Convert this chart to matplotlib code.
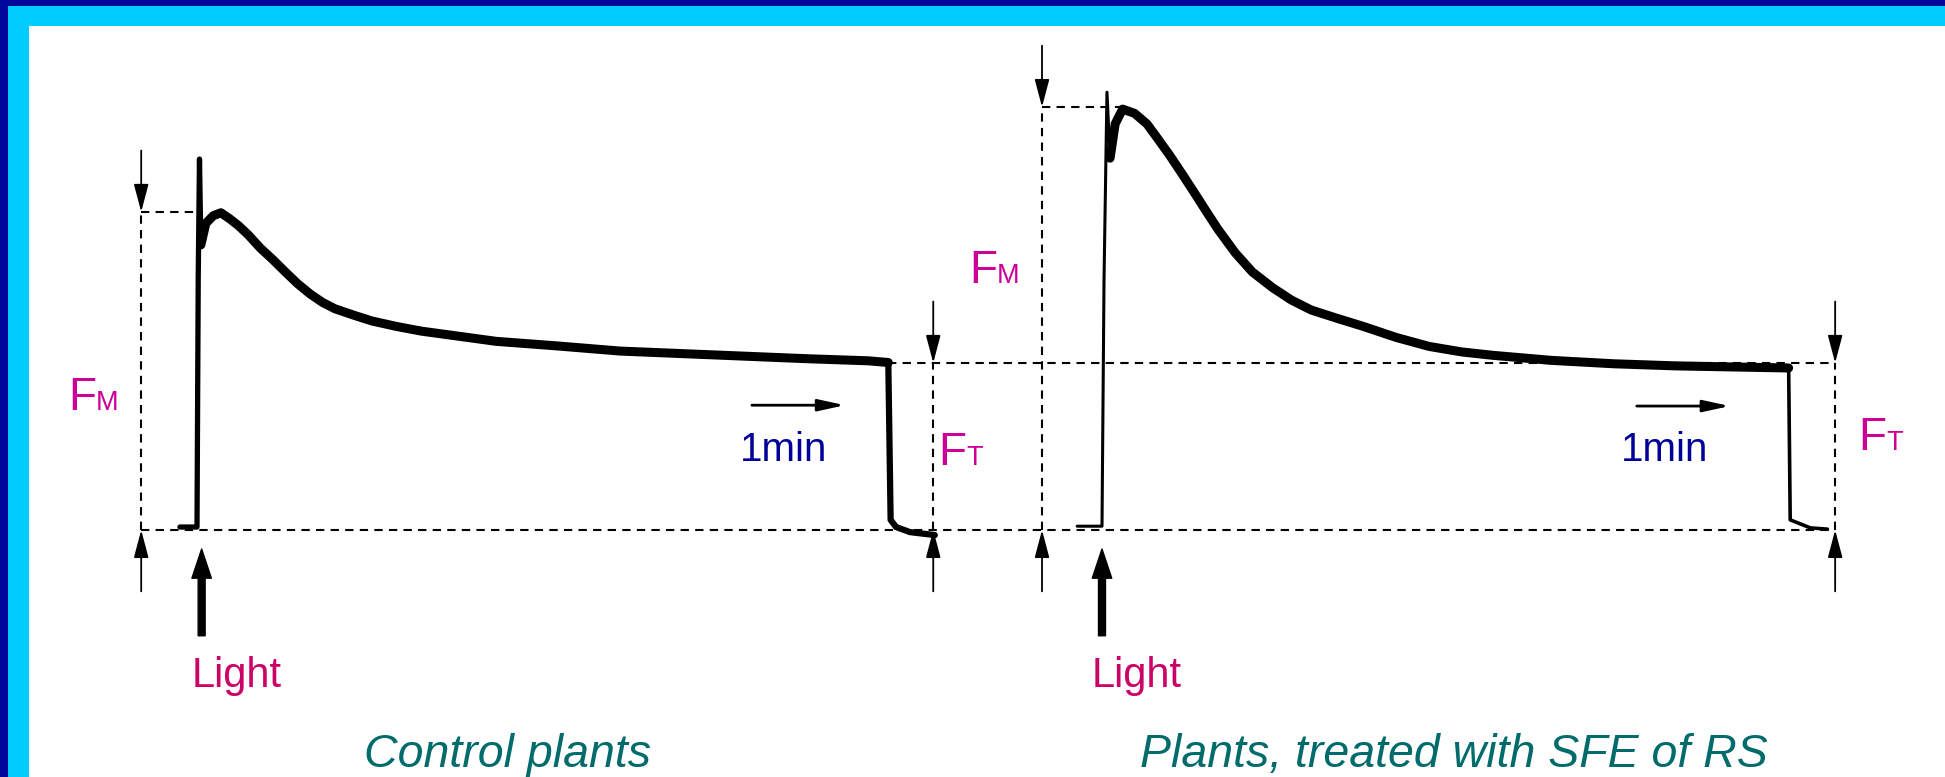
import matplotlib
matplotlib.use("Agg")
import matplotlib.pyplot as plt
from matplotlib.patches import Rectangle
import numpy as np

plt.rcParams['font.family'] = ['Liberation Sans', 'DejaVu Sans']

# ---------------- data ----------------
# time in s after light on, fluorescence in relative units (F0 = 0)
ctrl_t = [-11, 0, 0.8, 1.6, 2.5, 5.7, 10.5, 15.4, 21, 26.6, 33, 41, 49, 57,
          65, 73, 81, 89, 101, 113, 129, 145, 169, 193, 233, 273, 313, 353,
          393, 433, 446, 447.5, 451, 460, 476]
ctrl_f = [0.7, 0.7, 60, 87.7, 67.4, 72.5, 74.3, 75.0, 73.6, 72.0, 69.8, 66.6,
          63.9, 61.0, 58.2, 55.8, 53.8, 52.3, 50.8, 49.4, 48.1, 47.0, 45.8,
          44.6, 43.5, 42.3, 41.7, 41.1, 40.5, 40.0, 39.6, 2.4, 0.7, -0.5, -1.2]

trt_t = [-16, 0, 1.3, 3.2, 5.2, 8.5, 13.3, 21, 29, 36, 44, 52, 60, 67.5, 75,
         86, 97, 110, 122, 135, 152, 168, 190, 211, 232, 252, 290, 330, 370,
         443, 444, 457, 468]
trt_f = [0.9, 0.9, 59.1, 103.5, 87.9, 96.0, 99.5, 98.5, 96.0, 92.5, 88.4,
         84.0, 79.5, 75.2, 71.0, 65.5, 61.0, 57.3, 54.4, 52.0, 50.0, 48.2,
         45.5, 43.4, 42.1, 41.3, 40.1, 39.3, 38.8, 38.3, 2.4, 0.5, 0.2]

FM_ctrl = 75.2
FM_trt = 100.0
FT_ctrl = 39.5
FT_trt = 39.5
off_ctrl = 446
off_trt = 443
one_min = 60

titles = ["Control plants", "Plants, treated with SFE of RS"]

# ---------------- layout ----------------
W, H = 1945, 777
fig = plt.figure(figsize=(W / 100, H / 100), dpi=100)
fig.patch.set_facecolor('white')

DARK = '#00079A'
CYAN = '#00CCFF'
MAG = '#CC0099'
LIGHTC = '#CC0066'
BLUE = '#000099'
TEAL = '#006B6B'

def fx(px):
    return px / W

def fy(py):
    return 1 - py / H

# border (top + left)
fig.patches.append(Rectangle((0, fy(6)), 1, 6 / H, transform=fig.transFigure,
                             facecolor=DARK, edgecolor='none', zorder=0))
fig.patches.append(Rectangle((0, 0), 8 / W, 1, transform=fig.transFigure,
                             facecolor=DARK, edgecolor='none', zorder=0))
fig.patches.append(Rectangle((fx(8), fy(26)), 1, 20 / H, transform=fig.transFigure,
                             facecolor=CYAN, edgecolor='none', zorder=0))
fig.patches.append(Rectangle((fx(8), 0), 21 / W, fy(6), transform=fig.transFigure,
                             facecolor=CYAN, edgecolor='none', zorder=0))

PX_S = 1.55     # px per second
PX_U = 4.23     # px per fluorescence unit
BASE_Y = 530    # px of F0
TOP, BOT = 26, 777

def make_axes(x_left, x_right, x_t0):
    ax = fig.add_axes([fx(x_left), fy(BOT), (x_right - x_left) / W, (BOT - TOP) / H])
    ax.set_xlim((x_left - x_t0) / PX_S, (x_right - x_t0) / PX_S)
    ax.set_ylim((BASE_Y - BOT) / PX_U, (BASE_Y - TOP) / PX_U)
    ax.axis('off')
    ax.patch.set_alpha(0)
    return ax

axL = make_axes(100, 989, 197)
axR = make_axes(989, 1945, 1102)

DASH = dict(color='black', lw=1.5, ls=(0, (4, 3)), zorder=2)
ALEN = 14.5
TRACE = dict(color='black', solid_joinstyle='round', solid_capstyle='round', zorder=4)

def thin_arrow(ax, x, y_from, y_to):
    ax.annotate('', xy=(x, y_to), xytext=(x, y_from),
                arrowprops=dict(arrowstyle='-|>,head_length=1.7,head_width=0.45',
                                mutation_scale=10, color='black', lw=1.3,
                                shrinkA=0, shrinkB=0), zorder=3)

def light_arrow(ax, x):
    ax.annotate('', xy=(x, -4.5), xytext=(x, -25),
                arrowprops=dict(width=5, headwidth=14, headlength=21,
                                color='black', shrink=0), zorder=3)

def min_arrow(ax, x0, y):
    ax.annotate('', xy=(x0 + one_min, y), xytext=(x0, y),
                arrowprops=dict(arrowstyle='-|>,head_length=1.6,head_width=0.35',
                                mutation_scale=10, color='black', lw=2,
                                shrinkA=0, shrinkB=0), zorder=3)

# ---------------- left panel ----------------
ax = axL
xl, xr = ax.get_xlim()
ref0, ref1 = -36, 475
t = np.array(ctrl_t)
f = np.array(ctrl_f)
ax.plot(t[t <= 5.7], f[t <= 5.7], lw=3.8, **TRACE)
sel = (t >= 2.5) & (t <= off_ctrl)
ax.plot(t[sel], f[sel], lw=6.5, **TRACE)
ax.plot(t[t >= off_ctrl], f[t >= off_ctrl], lw=4.5, **TRACE)
ax.plot([ref0, xr], [0, 0], **DASH)
ax.plot([off_ctrl, xr], [FT_ctrl, FT_ctrl], **DASH)
ax.plot([ref0, ref0], [0, FM_ctrl], **DASH)
ax.plot([ref0, 0], [FM_ctrl, FM_ctrl], **DASH)
ax.plot([ref1, ref1], [0, FT_ctrl], **DASH)
thin_arrow(ax, ref0, FM_ctrl + ALEN, FM_ctrl)
thin_arrow(ax, ref0, -ALEN, 0)
thin_arrow(ax, ref1, FT_ctrl + ALEN, FT_ctrl)
thin_arrow(ax, ref1, -ALEN, 0)
light_arrow(ax, 3)
min_arrow(ax, 358, 29.5)

# ---------------- right panel ----------------
ax = axR
xl, xr = ax.get_xlim()
ref0, ref1 = -38.7, 473
t = np.array(trt_t)
f = np.array(trt_f)
ax.plot(t[t <= 8.5], f[t <= 8.5], lw=2.2, **TRACE)
sel = (t >= 5.2) & (t <= off_trt)
ax.plot(t[sel], f[sel], lw=6.5, **TRACE)
ax.plot(t[t >= off_trt], f[t >= off_trt], lw=2.6, **TRACE)
ax.plot([xl, ref1], [0, 0], **DASH)
ax.plot([xl, ref1], [FT_trt, FT_trt], **DASH)
ax.plot([ref0, ref0], [0, FM_trt], **DASH)
ax.plot([ref0, 13], [FM_trt, FM_trt], **DASH)
ax.plot([ref1, ref1], [0, FT_trt], **DASH)
thin_arrow(ax, ref0, FM_trt + ALEN, FM_trt)
thin_arrow(ax, ref0, -ALEN, 0)
thin_arrow(ax, ref1, FT_trt + ALEN, FT_trt)
thin_arrow(ax, ref1, -ALEN, 0)
light_arrow(ax, 0)
min_arrow(ax, 345, 29.3)

# ---------------- texts ----------------
def ftext(x, y, main, sub):
    fig.text(fx(x), fy(y), main, fontsize=33, color=MAG, va='baseline', ha='left')
    fig.text(fx(x + 28), fy(y), sub, fontsize=19.5, color=MAG, va='baseline', ha='left')

ftext(68, 410, 'F', 'M')
ftext(938, 465, 'F', 'T')
ftext(969, 283, 'F', 'M')
ftext(1858, 450, 'F', 'T')

for x in (740, 1621):
    fig.text(fx(x), fy(461), '1min', fontsize=29, color=BLUE, va='baseline', ha='left')

for x in (237, 1137):
    fig.text(fx(x), fy(687), 'Light', fontsize=30, color=LIGHTC, va='baseline', ha='center')

for x, s in zip((508, 1454), titles):
    fig.text(fx(x), fy(767), s, fontsize=33.5, color=TEAL, style='italic',
             va='baseline', ha='center')

fig.savefig('out.png', dpi=100)
